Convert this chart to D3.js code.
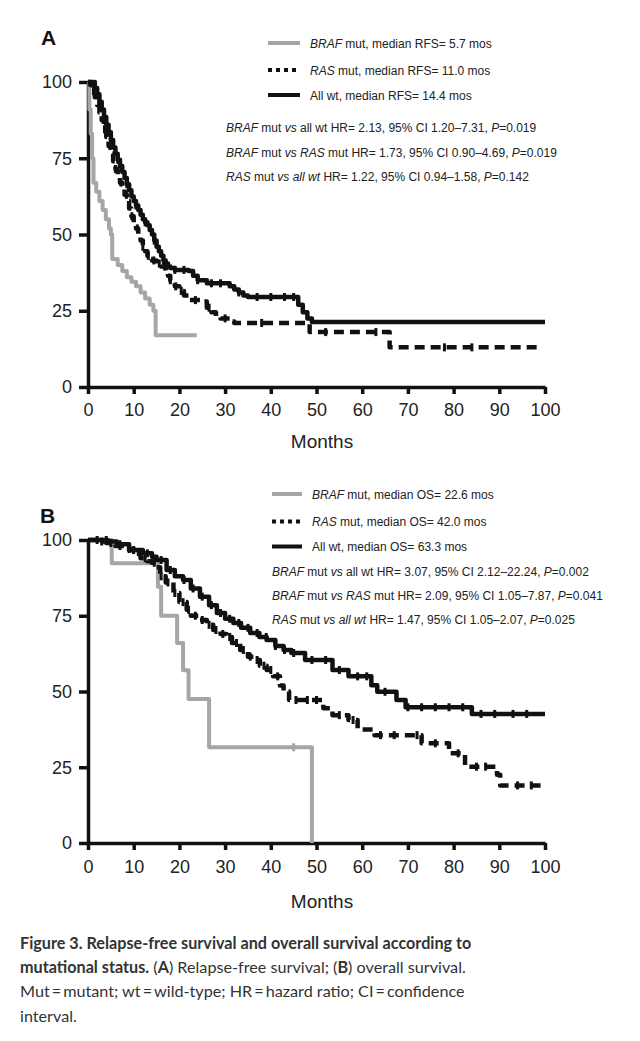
<!DOCTYPE html>
<html><head><meta charset="utf-8">
<script src="https://cdn.jsdelivr.net/npm/d3@7"></script>
<style>body{margin:0;background:#fff} svg{display:block}</style>
</head><body><svg id="c" width="640" height="1041"></svg>
<script>
// ---------- DATA ----------
const xTicks = [0,10,20,30,40,50,60,70,80,90,100];
const yTicks = [0,25,50,75,100];
const xLabel = "Months";

// Panel A: relapse-free survival (time in months, survival %)
const rfsBrafT = [0,0.3,0.6,0.9,1.2,1.8,2.5,3.2,3.9,4.6,5.0,5.3,6.5,7.5,8.5,9.5,10.5,11.5,12.5,13.5,14.3,14.8,23.8];
const rfsBrafS = [100,91,83,75,67,64,61,58,55,52,50,42,40,38,36,34.5,33,31,29,27,25,17,17];
const rfsRasT = [0,0.5,1,1.5,2,2.5,3,3.5,4,4.5,5,5.5,6,6.5,7,7.5,8,8.5,9,9.5,10,10.5,11,11.5,12,12.5,13,13.5,14,15,16,17,17.5,18,19,20,21,22,25,26,27,28,29,31,32,48.5,66,99];
const rfsRasS = [100,99,97,95,92.5,90,87.5,84.5,82,79,76.5,74,71.5,69,67,65,63,61,58.5,56,54,52,50,48,46,44.5,43,42,41.5,40.5,39.5,38,36.5,35,33,31.5,30,28.5,28,26,24.5,23,22.5,21.5,21,18,13,13];
const rfsRasC = [1.2,2.4,3.6,4.8,6,7.2,8.4,9.6,10.8,12,13.2,14.4,15.6,16.8,18,19.2,20.4,23.5,26.5,30,38,52,63,78,84];
const rfsWtT = [0,1.5,2,2.5,3,3.5,4,4.5,5,5.5,6,6.5,7,7.5,8,8.5,9,9.5,10,10.5,11,11.5,12,12.5,13,13.5,14,14.5,15,15.5,16,16.5,17,17.5,18,19,22,23,24,26,31,32,33,34,35,46,47,48,49,100];
const rfsWtS = [100,98,96,93.5,91,88.5,86,83.5,81,78.5,76.5,74.5,72.5,70.5,68.5,66.5,64.5,62.5,61,59.5,58,56.5,55,54,53,51.5,50,48,46,44.5,43,41.5,40.5,39.5,39,38.4,38,36.5,35,34,33,32,31,30,29.5,27,24.5,22.5,21.3,21.3];
const rfsWtC = [2.5,4.5,6.5,8.5,10.5,12.5,14.5,16.5,19,21,24,27,29,33,37,40,43,45];

// Panel B: overall survival
const osBrafT = [0,5.2,15.3,16,19.5,20.8,22,26.5,49,49];
const osBrafS = [100,92.3,84.6,75,66,57,47.5,31.6,0,0];
const osBrafC = [45];
const osRasT = [0,2,4,6,8,10,11.5,13,14,15,15.8,17,18.7,20,21.6,22.5,24.5,26,27.4,29,30.3,31.5,33.3,35,36.2,37.6,39.1,40.5,42,42.8,44,51.5,53.5,57,59,62.7,73,79,82.5,89.5,90.2,100];
const osRasS = [100,99.5,99,98,97,96,94,93,92.5,91,88,86,82.5,79.5,77,75,73.6,72,70.3,69,68,66,63.7,61.5,60.4,58.5,57.1,55,52,50,47.2,44.5,42.2,40.6,37.5,35.6,32.9,29.6,25.2,22.5,19,19];
const osRasC = [3,5,7,9,11,12.5,14.5,16,17.5,19,20.8,22,23.5,25,26.5,28,29.5,31,32.5,34,35.5,37,38.5,40,41.5,45.5,48,50,55,58,64,67,72,76,81,85,87,94,97];
const osWtT = [0,4.3,6.3,9,12,14,15,17.2,19,20.8,22.5,24.5,26.5,28.2,30,31.8,33.5,35.5,37.5,39.1,41,42.8,44.5,47.5,53.5,57,62,63.3,67.5,69.5,84,100];
const osWtS = [100,99.5,98.6,96.7,95.6,94.5,93.4,90.1,88,86.8,84,81.3,78.5,75.9,74,72.6,71,69.3,68,67,65,63.7,62.7,60.4,57.1,55,52.1,49.9,47.2,44.8,42.6,42.6];
const osWtC = [2,4,7,10,13,16,18,21,23,25,27,29,31,33,35,37,39,41,43,45,49,52,55,59,61,65,70,73,76,79,82,86,89,93,96];

// legend & statistics text: arrays of [text, italic/bold flag]
const legendA = [
  [["BRAF",1],[" mut, median RFS= 5.7 mos",0]],
  [["RAS",1],[" mut, median RFS= 11.0 mos",0]],
  [["All wt, median RFS= 14.4 mos",0]]
];
const statsA = [
  [["BRAF",1],[" mut ",0],["vs",1],[" all wt HR= 2.13, 95% CI 1.20\u20137.31, ",0],["P",1],["=0.019",0]],
  [["BRAF",1],[" mut ",0],["vs",1],[" ",0],["RAS",1],[" mut HR= 1.73, 95% CI 0.90\u20134.69, ",0],["P",1],["=0.019",0]],
  [["RAS",1],[" mut ",0],["vs all wt",1],[" HR= 1.22, 95% CI 0.94\u20131.58, ",0],["P",1],["=0.142",0]]
];
const legendB = [
  [["BRAF",1],[" mut, median OS= 22.6 mos",0]],
  [["RAS",1],[" mut, median OS= 42.0 mos",0]],
  [["All wt, median OS= 63.3 mos",0]]
];
const statsB = [
  [["BRAF",1],[" mut ",0],["vs",1],[" all wt HR= 3.07, 95% CI 2.12\u201322.24, ",0],["P",1],["=0.002",0]],
  [["BRAF",1],[" mut ",0],["vs",1],[" ",0],["RAS",1],[" mut HR= 2.09, 95% CI 1.05\u20137.87, ",0],["P",1],["=0.041",0]],
  [["RAS",1],[" mut ",0],["vs all wt",1],[" HR= 1.47, 95% CI 1.05\u20132.07, ",0],["P",1],["=0.025",0]]
];
const captionLines = [
  [["Figure 3. Relapse-free survival and overall survival according to",1]],
  [["mutational status.",1],[" (",0],["A",1],[") Relapse-free survival; (",0],["B",1],[") overall survival.",0]],
  [["Mut\u2009=\u2009mutant; wt\u2009=\u2009wild-type; HR\u2009=\u2009hazard ratio; CI\u2009=\u2009confidence",0]],
  [["interval.",0]]
];

// ---------- DRAW ----------
const svg = d3.select("#c");
const FONT = "'Liberation Sans', Arial, Helvetica, sans-serif";
const GRAY = "#a6a6a6", BLACK = "#111";

function richText(g, x, y, parts, size, boldOn) {
  const t = g.append("text").attr("x", x).attr("y", y)
    .attr("font-family", FONT).attr("font-size", size).attr("fill", "#222");
  parts.forEach(p => {
    const s = t.append("tspan").text(p[0]);
    if (boldOn) { if (p[1]) s.attr("font-weight", "bold"); }
    else if (p[1]) s.attr("font-style", "italic");
  });
  return t;
}

function panel(cfg) {
  const x = d3.scaleLinear().domain([0,100]).range([88,545]);
  const y = d3.scaleLinear().domain([0,100]).range(cfg.yr);
  const g = svg.append("g");

  const ya = g.append("g").attr("transform","translate(88,0)")
    .call(d3.axisLeft(y).tickValues(yTicks).tickSize(9).tickSizeOuter(0).tickPadding(7));
  const xa = g.append("g").attr("transform",`translate(0,${cfg.yr[0]})`)
    .call(d3.axisBottom(x).tickValues(xTicks).tickSize(7).tickSizeOuter(0).tickPadding(cfg.xpad));
  [ya, xa].forEach(a => {
    a.select(".domain").attr("stroke", BLACK).attr("stroke-width", 3.5);
    a.selectAll(".tick line").attr("stroke", BLACK).attr("stroke-width", 3.5);
    a.selectAll(".tick text").attr("font-family", FONT).attr("font-size", 18).attr("fill", "#222");
  });

  g.append("text").attr("x", 322).attr("y", cfg.mY).attr("text-anchor","middle")
    .attr("font-family", FONT).attr("font-size", 19).attr("fill","#222").text(xLabel);
  g.append("text").attr("x", cfg.lx).attr("y", cfg.lY)
    .attr("font-family", FONT).attr("font-size", 21).attr("font-weight","bold").attr("fill","#111").text(cfg.letter);

  const line = d3.line().x(d => x(d[0])).y(d => y(d[1])).curve(d3.curveStepAfter);
  const series = cfg.series;
  series.forEach(s => {
    const pts = s.t.map((t,i) => [t, s.s[i]]);
    g.append("path").attr("d", line(pts)).attr("fill","none")
      .attr("stroke", s.color).attr("stroke-width", s.w)
      .attr("stroke-dasharray", s.dash || null)
      .attr("stroke-linejoin","round");
    (s.c || []).forEach(ct => {
      const i = d3.bisectRight(s.t, ct) - 1;
      const sv = s.s[Math.max(0, i)];
      g.append("line").attr("x1", x(ct)).attr("x2", x(ct))
        .attr("y1", y(sv) - 4).attr("y2", y(sv) + 4)
        .attr("stroke", s.color).attr("stroke-width", 3);
    });
  });

  cfg.legend.forEach((row, i) => {
    const ly = cfg.legY[i];
    const s = series[i];
    g.append("line").attr("x1", cfg.sx[0]).attr("x2", cfg.sx[1]).attr("y1", ly).attr("y2", ly)
      .attr("stroke", s.color).attr("stroke-width", 4).attr("stroke-dasharray", s.ldash || null);
    richText(g, cfg.tx, ly + 4.5, row, 12, false);
  });
  cfg.stats.forEach((row, i) => richText(g, cfg.stx, cfg.stY[i], row, 12, false));
}

panel({
  yr: [387, 82], xpad: 9, mY: 448, letter: "A", lx: 41, lY: 45,
  series: [
    {t: rfsBrafT, s: rfsBrafS, color: GRAY, w: 4},
    {t: rfsRasT, s: rfsRasS, c: rfsRasC, color: BLACK, w: 4.5, dash: "10,6", ldash: "4,4"},
    {t: rfsWtT, s: rfsWtS, c: rfsWtC, color: BLACK, w: 4.5}
  ],
  legend: legendA, stats: statsA,
  legY: [43, 70, 95], sx: [268, 300], tx: 310,
  stx: 226, stY: [132, 157, 181]
});
panel({
  yr: [843, 540], xpad: 10, mY: 908, letter: "B", lx: 40, lY: 523,
  series: [
    {t: osBrafT, s: osBrafS, c: osBrafC, color: GRAY, w: 4},
    {t: osRasT, s: osRasS, c: osRasC, color: BLACK, w: 4.5, dash: "10,6", ldash: "4,4"},
    {t: osWtT, s: osWtS, c: osWtC, color: BLACK, w: 4.5}
  ],
  legend: legendB, stats: statsB,
  legY: [494, 521.5, 546.5], sx: [272, 302], tx: 312,
  stx: 272, stY: [576, 600, 624]
});

const capY = [949, 973, 997, 1022];
captionLines.forEach((row, i) => {
  const t = richText(svg, 20, capY[i], row, 16.2, true);
  t.attr("font-family", "Lato, 'Open Sans', sans-serif").attr("fill", "#333");
});
</script></body></html>
